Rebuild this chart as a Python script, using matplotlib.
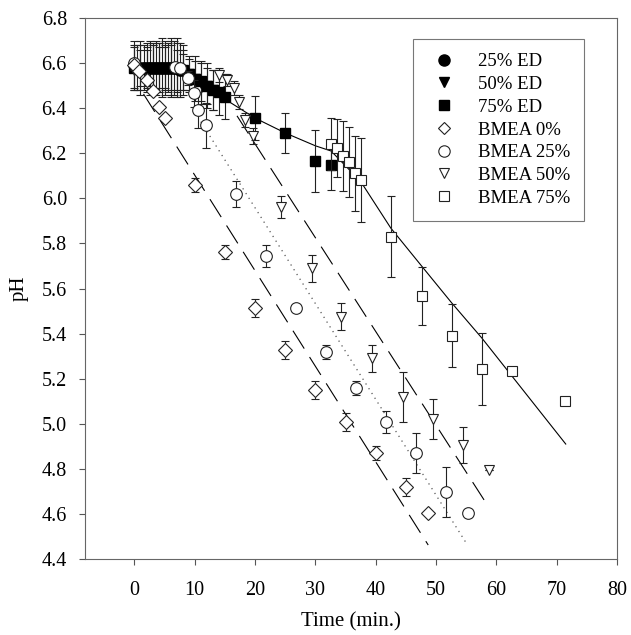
import matplotlib
matplotlib.use("Agg")
import matplotlib.pyplot as plt
from matplotlib.lines import Line2D

plt.rcParams['font.family'] = ['Liberation Serif', 'DejaVu Serif']

# --- data ---
ed25_t = [0, 0.5, 1, 1.5, 2, 2.5, 3, 3.5, 4, 4.5, 5, 5.5, 6, 6.5, 7, 7.5, 8]
ed25_ph = [6.59, 6.58, 6.58, 6.58, 6.58, 6.58, 6.58, 6.58, 6.58, 6.58, 6.58, 6.58, 6.58, 6.58, 6.58, 6.57, 6.57]
ed25_err = [0.11, 0.10, 0.12, 0.10, 0.11, 0.12, 0.10, 0.12, 0.11, 0.13, 0.12, 0.11, 0.13, 0.12, 0.13, 0.12, 0.11]

ed50_t = [0, 1, 2, 3, 4, 5, 6, 7, 8, 9, 10, 11, 12, 13]
ed50_ph = [6.58, 6.58, 6.58, 6.58, 6.58, 6.58, 6.58, 6.57, 6.56, 6.55, 6.53, 6.51, 6.50, 6.48]
ed50_err = [0.09, 0.10, 0.08, 0.11, 0.09, 0.10, 0.12, 0.09, 0.08, 0.07, 0.08, 0.09, 0.08, 0.09]

ed75_t = [0, 1, 2, 3, 4, 5, 6, 7, 8, 9, 10, 11, 12, 13, 14, 15, 20, 25, 29.9, 32.6]
ed75_ph = [6.58, 6.58, 6.58, 6.58, 6.58, 6.58, 6.58, 6.58, 6.57, 6.55, 6.53, 6.52, 6.50, 6.48, 6.47, 6.45,
           6.356, 6.29, 6.167, 6.148]
ed75_err = [0.10, 0.08, 0.09, 0.10, 0.11, 0.09, 0.10, 0.11, 0.09, 0.08, 0.10, 0.09, 0.10, 0.09, 0.10, 0.10,
            0.096, 0.09, 0.138, 0.11]

b0_t = [0, 0.8, 2.0, 3.0, 4.0, 5.0, 10.0, 15.0, 20.0, 25.0, 30.0, 35.0, 40.0, 45.0, 48.7]
b0_ph = [6.59, 6.565, 6.525, 6.476, 6.405, 6.356, 6.059, 5.762, 5.513, 5.327, 5.150, 5.008, 4.870, 4.719, 4.604]
b0_err = [0.0, 0.0, 0.0, 0.0, 0.0, 0.0, 0.03, 0.03, 0.039, 0.04, 0.04, 0.038, 0.03, 0.04, 0.0]

b25_t = [0, 6.8, 7.6, 8.8, 9.8, 10.6, 11.8, 16.8, 21.8, 26.7, 31.7, 36.7, 41.7, 46.7, 51.7, 55.3]
b25_ph = [6.6, 6.583, 6.578, 6.534, 6.467, 6.392, 6.325, 6.019, 5.744, 5.513, 5.318, 5.158, 5.008, 4.870, 4.697, 4.604]
b25_err = [0.0, 0.0, 0.0, 0.03, 0.06, 0.08, 0.10, 0.059, 0.048, 0.0, 0.03, 0.03, 0.05, 0.089, 0.11, 0.0]

b50_t = [0, 14.0, 15.4, 16.5, 17.3, 18.4, 19.6, 24.3, 29.4, 34.2, 39.4, 44.5, 49.5, 54.5, 58.8]
b50_ph = [6.57, 6.547, 6.525, 6.49, 6.427, 6.347, 6.276, 5.961, 5.690, 5.475, 5.290, 5.119, 5.021, 4.906, 4.795]
b50_err = [0.0, 0.03, 0.025, 0.03, 0.03, 0.03, 0.035, 0.048, 0.06, 0.06, 0.06, 0.11, 0.09, 0.08, 0.0]

b75_t = [32.6, 33.6, 34.5, 35.6, 36.6, 37.5, 42.5, 47.6, 52.6, 57.6, 62.6, 71.4]
b75_ph = [6.240, 6.223, 6.188, 6.161, 6.112, 6.081, 5.829, 5.567, 5.390, 5.243, 5.234, 5.102]
b75_err = [0.115, 0.13, 0.157, 0.155, 0.166, 0.185, 0.18, 0.13, 0.14, 0.16, 0.0, 0.0]

# fitted trend lines (end points / path)
fit0_t, fit0_ph = [1.5, 48.7], [6.463, 4.462]
fit25_t, fit25_ph = [11.0, 55.0], [6.340, 4.471]
fit50_t, fit50_ph = [17.0, 58.3], [6.366, 4.648]
fit75_t = [0, 8, 15, 20, 25, 30, 32.6, 37.5, 42.5, 47.6, 52.6, 57.6, 71.5]
fit75_ph = [6.58, 6.55, 6.44, 6.356, 6.29, 6.233, 6.21, 6.075, 5.868, 5.70, 5.536, 5.38, 4.91]

labels = ['25% ED', '50% ED', '75% ED', 'BMEA 0%', 'BMEA 25%', 'BMEA 50%', 'BMEA 75%']

fig = plt.figure(figsize=(6.31, 6.35), dpi=100)
ax = fig.add_axes([85 / 631, 76 / 635, 532 / 631, 541 / 635])

# trend lines
ax.plot(fit75_t, fit75_ph, color='black', lw=0.8, zorder=1)
ax.plot(fit0_t, fit0_ph, color='black', lw=0.8, dashes=(19, 9), zorder=1)
ax.plot(fit25_t, fit25_ph, color='#555555', lw=0.9, dashes=(1, 3.5), zorder=1)
ax.plot(fit50_t, fit50_ph, color='black', lw=0.8, dashes=(19, 9), zorder=1)

ebkw = dict(ls='none', ecolor='#222222', elinewidth=0.8, capsize=3, capthick=0.8)

# filled (ED) series
ax.errorbar(ed25_t, ed25_ph, yerr=ed25_err, fmt='o', ms=8, mfc='black', mec='black', zorder=2, **ebkw)
ax.errorbar(ed50_t, ed50_ph, yerr=ed50_err, fmt='v', ms=7.5, mfc='black', mec='black', zorder=2, **ebkw)
ax.errorbar(ed75_t, ed75_ph, yerr=ed75_err, fmt='s', ms=7, mfc='black', mec='black', zorder=2, **ebkw)

# open (BMEA) series
ax.errorbar(b25_t, b25_ph, yerr=b25_err, fmt='o', ms=8.4, mfc='white', mec='#222222', mew=0.8, zorder=3, **ebkw)
ax.errorbar(b50_t, b50_ph, yerr=b50_err, fmt='v', ms=7.8, mfc='white', mec='#222222', mew=0.8, zorder=3, **ebkw)
ax.errorbar(b75_t, b75_ph, yerr=b75_err, fmt='s', ms=7.2, mfc='white', mec='#222222', mew=0.8, zorder=3, **ebkw)
ax.errorbar(b0_t, b0_ph, yerr=b0_err, fmt='D', ms=6.8, mfc='white', mec='#222222', mew=0.8, zorder=3, **ebkw)

ax.set_xlim(-8.2, 80)
ax.set_ylim(4.4, 6.8)
ax.set_xticks(range(0, 81, 10))
ax.set_yticks([4.4, 4.6, 4.8, 5.0, 5.2, 5.4, 5.6, 5.8, 6.0, 6.2, 6.4, 6.6, 6.8])
ax.set_yticklabels([f'{v:.1f}' for v in ax.get_yticks()])
ax.tick_params(direction='out', length=4, width=0.8, color='#555555', labelsize=14.5)
ax.tick_params(axis='y', pad=9)
ax.tick_params(axis='x', pad=12)
for s in ax.spines.values():
    s.set_color('#666666')
    s.set_linewidth(0.8)

ax.set_xlabel('Time (min.)', fontsize=15, labelpad=9)
ax.set_ylabel('pH', fontsize=15, labelpad=9)

handles = [
    Line2D([], [], ls='none', marker='o', ms=8, mfc='black', mec='black'),
    Line2D([], [], ls='none', marker='v', ms=7.5, mfc='black', mec='black'),
    Line2D([], [], ls='none', marker='s', ms=7, mfc='black', mec='black'),
    Line2D([], [], ls='none', marker='D', ms=6.6, mfc='white', mec='#222222', mew=0.8),
    Line2D([], [], ls='none', marker='o', ms=8.2, mfc='white', mec='#222222', mew=0.8),
    Line2D([], [], ls='none', marker='v', ms=7.5, mfc='white', mec='#222222', mew=0.8),
    Line2D([], [], ls='none', marker='s', ms=7, mfc='white', mec='#222222', mew=0.8),
]
leg = ax.legend(handles, labels, loc='upper right', bbox_to_anchor=(0.938, 0.961), borderaxespad=0,
                fontsize=13.5, frameon=True, fancybox=False, edgecolor='#555555',
                handlelength=1.8, handletextpad=0.9, labelspacing=0.3, borderpad=0.75, numpoints=1)
leg.get_frame().set_linewidth(0.8)

fig.savefig('out.png', dpi=100)
